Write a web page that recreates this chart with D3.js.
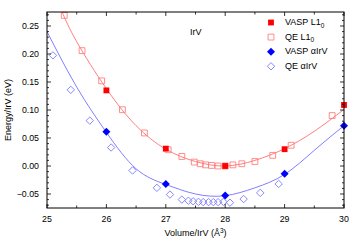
<!DOCTYPE html>
<html lang="en">
<head>
  <meta charset="UTF-8" />
  <title>IrV energy vs volume</title>
  <script src="https://d3js.org/d3.v7.min.js"></script>
  <style>
    body { margin: 0; background: #fff; }
    svg { display: block; font-family: "Liberation Sans", Arial, sans-serif; }
    .tick-label { font-size: 8.8px; }
    .title { font-size: 9px; }
  </style>
</head>
<body>
  <svg id="chart" width="354" height="248"></svg>
  <script>
    // VASP L1_0 (filled red squares)
    const vaspL10Vol = [26, 27, 28, 29, 30];
    const vaspL10E = [0.135, 0.031, 0.0, 0.030, 0.109];

    // QE L1_0 (open red squares)
    const qeL10Vol = [25.29, 25.59, 25.92, 26.27, 26.64, 27.04, 27.27, 27.48, 27.58, 27.67, 27.77, 27.88, 28.0, 28.13, 28.28, 28.5, 28.8, 29.11, 29.8];
    const qeL10E = [0.269, 0.206, 0.152, 0.1005, 0.059, 0.029, 0.017, 0.007, 0.004, 0.002, 0.001, 0.0, 0.0, 0.002, 0.004, 0.008, 0.019, 0.037, 0.09];

    // VASP alpha-IrV (filled blue diamonds)
    const vaspAlphaVol = [26, 27, 28, 29, 30];
    const vaspAlphaE = [0.061, -0.032, -0.0525, -0.014, 0.072];

    // QE alpha-IrV (open blue diamonds)
    const qeAlphaVol = [25.10, 25.40, 25.72, 26.08, 26.44, 26.85, 27.07, 27.27, 27.38, 27.46, 27.55, 27.63, 27.72, 27.80, 27.88, 27.97, 28.08, 28.31, 28.59, 28.90];
    const qeAlphaE = [0.1975, 0.136, 0.081, 0.033, -0.008, -0.039, -0.051, -0.060, -0.062, -0.063, -0.064, -0.0645, -0.0645, -0.0645, -0.0645, -0.064, -0.0655, -0.059, -0.048, -0.032];

    // fitted curves
    const fitL10Vol = [25.25, 25.5, 26, 26.5, 27, 27.5, 28, 28.5, 29, 29.5, 30];
    const fitL10E = [0.276, 0.222, 0.138, 0.072, 0.030, 0.008, 0.0, 0.010, 0.031, 0.062, 0.101];
    const fitAlphaVol = [25, 25.5, 26, 26.5, 27, 27.5, 28, 28.5, 29, 29.5, 30];
    const fitAlphaE = [0.24, 0.141, 0.060, -0.005, -0.033, -0.050, -0.053, -0.039, -0.015, 0.028, 0.072];

    const xTicks = [25, 26, 27, 28, 29, 30];
    const yTicks = [-0.05, 0, 0.05, 0.10, 0.15, 0.20, 0.25];
    const legendLabels = ["VASP L1", "QE L1", "VASP \u03b1IrV", "QE \u03b1IrV"];

    const margin = { top: 12, right: 10, bottom: 40, left: 47 };
    const W = 354, H = 248;
    const iw = W - margin.left - margin.right;
    const ih = H - margin.top - margin.bottom;

    const svg = d3.select("#chart");
    const g = svg.append("g").attr("transform", `translate(${margin.left},${margin.top})`);

    const x = d3.scaleLinear().domain([25, 30]).range([0, iw]);
    const y = d3.scaleLinear().domain([-0.075, 0.275]).range([ih, 0]);

    const zip = (a, b) => a.map((v, i) => [v, b[i]]);

    g.append("clipPath").attr("id", "clip")
      .append("rect").attr("width", iw).attr("height", ih);

    const line = d3.line().x(d => x(d[0])).y(d => y(d[1])).curve(d3.curveNatural);

    g.append("path").datum(zip(fitL10Vol, fitL10E))
      .attr("clip-path", "url(#clip)")
      .attr("d", line).attr("fill", "none").attr("stroke", "#ff7070").attr("stroke-width", 0.9);
    g.append("path").datum(zip(fitAlphaVol, fitAlphaE))
      .attr("clip-path", "url(#clip)")
      .attr("d", line).attr("fill", "none").attr("stroke", "#7070ff").attr("stroke-width", 0.9);

    const sq = d3.symbol().type(d3.symbolSquare).size(34);
    const dia = (s) => `M0,${-s}L${s},0L0,${s}L${-s},0Z`;

    // open markers
    g.selectAll(".qeL10").data(zip(qeL10Vol, qeL10E)).join("path")
      .attr("transform", d => `translate(${x(d[0])},${y(d[1])})`)
      .attr("d", sq).attr("fill", "none").attr("stroke", "#ff8080").attr("stroke-width", 0.9);
    g.selectAll(".qeAlpha").data(zip(qeAlphaVol, qeAlphaE)).join("path")
      .attr("transform", d => `translate(${x(d[0])},${y(d[1])})`)
      .attr("d", dia(3.7)).attr("fill", "none").attr("stroke", "#7b7bff").attr("stroke-width", 0.9);

    // filled markers
    g.selectAll(".vaspL10").data(zip(vaspL10Vol, vaspL10E)).join("path")
      .attr("transform", d => `translate(${x(d[0])},${y(d[1])})`)
      .attr("d", sq).attr("fill", "#ff0000");
    g.selectAll(".vaspAlpha").data(zip(vaspAlphaVol, vaspAlphaE)).join("path")
      .attr("transform", d => `translate(${x(d[0])},${y(d[1])})`)
      .attr("d", dia(4)).attr("fill", "#0000ff");

    // frame
    g.append("rect").attr("width", iw).attr("height", ih)
      .attr("fill", "none").attr("stroke", "#000").attr("stroke-width", 1);

    // ticks, inward on all four sides
    const xMinor = d3.range(25, 30.01, 0.5);
    const yMinor = d3.range(-0.07, 0.2751, 0.01);
    const tk = g.append("g").attr("stroke", "#000").attr("stroke-width", 0.8);
    xMinor.forEach(v => {
      const len = xTicks.includes(v) ? 4 : 2.5;
      tk.append("line").attr("x1", x(v)).attr("x2", x(v)).attr("y1", ih).attr("y2", ih - len);
      tk.append("line").attr("x1", x(v)).attr("x2", x(v)).attr("y1", 0).attr("y2", len);
    });
    yMinor.forEach(v => {
      const major = yTicks.some(t => Math.abs(t - v) < 1e-6);
      const len = major ? 4 : 2;
      tk.append("line").attr("x1", 0).attr("x2", len).attr("y1", y(v)).attr("y2", y(v));
      tk.append("line").attr("x1", iw).attr("x2", iw - len).attr("y1", y(v)).attr("y2", y(v));
    });

    g.selectAll(".xl").data(xTicks).join("text")
      .attr("class", "tick-label").attr("x", d => x(d)).attr("y", ih + 14)
      .attr("text-anchor", "middle").text(d => d);
    const fmt = d => (d < 0 ? "\u2212" : "") + Math.abs(d).toFixed(2);
    g.selectAll(".yl").data(yTicks).join("text")
      .attr("class", "tick-label").attr("x", -8).attr("y", d => y(d)).attr("dy", "0.35em")
      .attr("text-anchor", "end").text(fmt);

    // axis titles
    const xt = svg.append("text").attr("class", "title")
      .attr("x", margin.left + iw / 2).attr("y", 236).attr("text-anchor", "middle");
    xt.append("tspan").text("Volume/IrV (\u00c5");
    xt.append("tspan").attr("dy", -3.5).attr("font-size", "6.5px").text("3");
    xt.append("tspan").attr("dy", 3.5).text(")");

    svg.append("text").attr("class", "title")
      .attr("transform", `translate(11,${margin.top + ih / 2}) rotate(-90)`)
      .attr("text-anchor", "middle").text("Energy/IrV (eV)");

    svg.append("text").attr("class", "title").attr("x", 190).attr("y", 35).text("IrV");

    // legend
    const lg = svg.append("g");
    const rows = [
      { d: sq, fill: "#ff0000", stroke: "none" },
      { d: sq, fill: "none", stroke: "#ff8080" },
      { d: dia(4), fill: "#0000ff", stroke: "none" },
      { d: dia(3.7), fill: "none", stroke: "#7b7bff" }
    ];
    rows.forEach((r, i) => {
      const yy = 22.5 + i * 14.6;
      lg.append("path").attr("transform", `translate(271,${yy})`)
        .attr("d", r.d).attr("fill", r.fill).attr("stroke", r.stroke).attr("stroke-width", 0.9);
      const t = lg.append("text").attr("class", "title").attr("x", 285).attr("y", yy).attr("dy", "0.3em")
        .text(legendLabels[i]);
      if (i < 2) t.append("tspan").attr("dy", 2.5).attr("font-size", "6.5px").text("0");
    });
  </script>
</body>
</html>
